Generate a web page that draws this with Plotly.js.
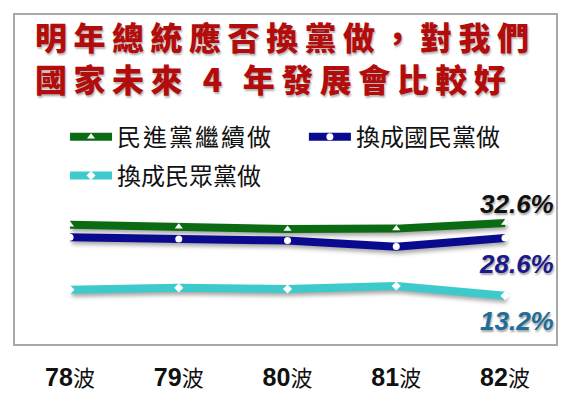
<!DOCTYPE html>
<html>
<head>
<meta charset="utf-8">
<script src="https://cdn.plot.ly/plotly-3.0.1.min.js"></script>
<style>
  html, body { margin: 0; padding: 0; background: #fff; }
  #chart { width: 570px; height: 410px; }
  .gtitle { letter-spacing: 6.5px; }
  .legendtext { letter-spacing: 2px; }
  .scatterlayer .trace path.js-line { filter: drop-shadow(2px 3px 2px rgba(0,0,0,0.35)); }
</style>
</head>
<body>
<div id="chart"></div>
<script>
// ---- data ----
const waves = ['78波', '79波', '80波', '81波', '82波'];
const seriesNames = ['民進黨繼續做', '換成國民黨做', '換成民眾黨做'];
const dppValues = [32.1, 31.6, 31.0, 31.1, 32.6];
const kmtValues = [28.8, 28.3, 27.9, 26.3, 28.6];
const tppValues = [14.8, 15.3, 15.0, 15.8, 13.2];
const titleText = '明年總統應否換黨做，對我們<br>國家未來 4 年發展會比較好';

// ---- styles ----
const lineColors = ['#0b6b12', '#0a0a8e', '#3ccaca'];
const labelColors = ['#111111', '#1a1a8a', '#1e6e98'];
const markerSymbols = ['triangle-up', 'circle', 'diamond'];
const legendIds = ['legend', 'legend2', 'legend3'];
const legendPos = [[0.0925, 0.629], [0.534, 0.629], [0.0925, 0.511]];
const allValues = [dppValues, kmtValues, tppValues];
const labelShift = [19, -26, -25];

const traces = allValues.map((vals, i) => ({
  type: 'scatter',
  mode: 'lines+markers',
  name: seriesNames[i],
  legend: legendIds[i],
  x: waves,
  y: vals,
  line: { color: lineColors[i], width: 8 },
  marker: { symbol: markerSymbols[i], size: 7, color: '#ffffff', line: { width: 0 } },
  hoverinfo: 'skip'
}));

const tickText = waves.map(w => '<b>' + w.replace('波', '') + '</b><span style="font-family:\'Noto Sans CJK TC\';font-weight:normal;font-size:22px">波</span>');

const annotations = allValues.map((vals, i) => ({
  x: waves[waves.length - 1],
  y: vals[vals.length - 1],
  xref: 'x', yref: 'y',
  text: vals[vals.length - 1].toFixed(1) + '%',
  showarrow: false,
  xanchor: 'right', yanchor: 'middle',
  xshift: 51, yshift: labelShift[i],
  font: { family: 'Liberation Sans, Arial, sans-serif', size: 26, color: labelColors[i],
          weight: 'bold', style: 'italic', shadow: '1px 2px 2px rgba(0,0,0,0.35)' }
}));

const legendFont = { family: 'Noto Sans CJK TC, sans-serif', size: 24, color: '#111111' };
const legendBase = {
  orientation: 'h',
  xanchor: 'left', yanchor: 'middle',
  itemwidth: 42,
  font: legendFont,
  bgcolor: 'rgba(0,0,0,0)',
  itemclick: false, itemdoubleclick: false
};

const layout = {
  width: 570, height: 410,
  margin: { l: 15, r: 14, t: 15, b: 66 },
  paper_bgcolor: '#ffffff',
  plot_bgcolor: '#ffffff',
  title: {
    text: titleText,
    x: 35 / 570, xanchor: 'left', xref: 'container',
    y: 0.877, yanchor: 'top', yref: 'container',
    font: { family: 'Noto Sans CJK TC, sans-serif', size: 32, color: '#b30c0c', weight: 900,
            shadow: '1px 2px 2px rgba(0,0,0,0.3)' }
  },
  showlegend: true,
  xaxis: {
    type: 'category',
    range: [-0.506, 4.469],
    tickvals: waves,
    ticktext: tickText,
    tickfont: { family: 'Liberation Sans, Arial, sans-serif', size: 25, color: '#111111' },
    ticks: 'outside', ticklen: 10, tickcolor: 'rgba(0,0,0,0)',
    showline: true, mirror: true, linecolor: '#a8a8a8', linewidth: 2,
    showgrid: false, zeroline: false, fixedrange: true
  },
  yaxis: {
    range: [0.33, 88.07],
    showticklabels: false, ticks: '',
    showline: true, mirror: true, linecolor: '#a8a8a8', linewidth: 2,
    showgrid: false, zeroline: false, fixedrange: true
  },
  annotations: annotations
};
legendIds.forEach((id, i) => {
  layout[id] = Object.assign({}, legendBase, { x: legendPos[i][0], y: legendPos[i][1] });
});

Plotly.newPlot('chart', traces, layout, { displayModeBar: false, staticPlot: true });
</script>
</body>
</html>
